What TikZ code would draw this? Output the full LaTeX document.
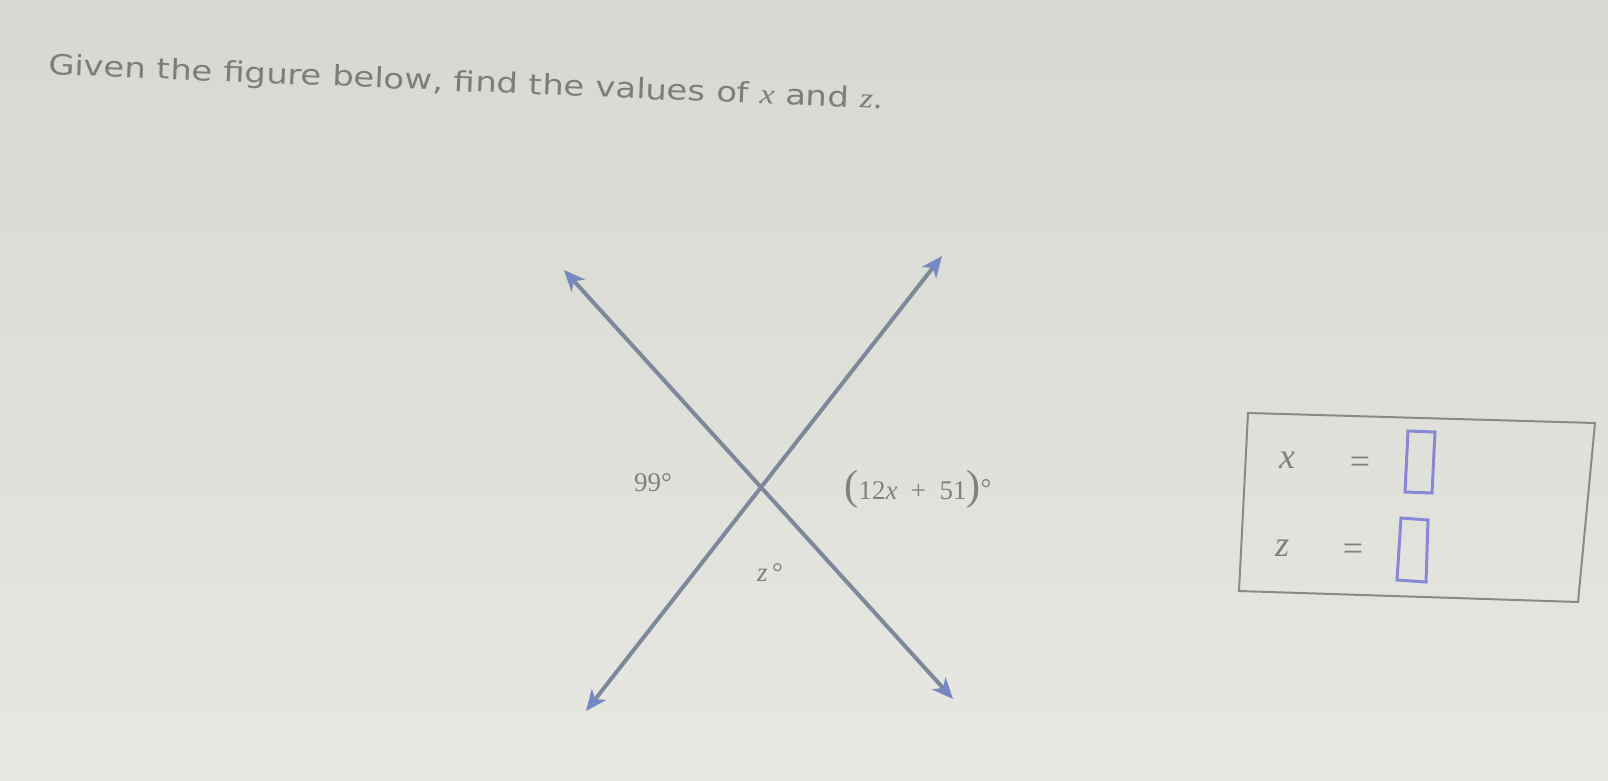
\documentclass[tikz,border=0pt]{standalone}
\usepackage{fontspec}
\usepackage{graphicx}
\newfontfamily\titlefont{DejaVu Sans}
\newfontfamily\serif{Liberation Serif}
\usetikzlibrary{arrows.meta}
\definecolor{bgtop}{RGB}{214,216,209}
\definecolor{bgbot}{RGB}{232,231,227}
\definecolor{linecol}{RGB}{126,136,152}
\definecolor{tipcol}{RGB}{118,136,192}
\definecolor{txtcol}{RGB}{128,128,128}
\definecolor{titlecol}{RGB}{125,125,125}
\definecolor{framecol}{RGB}{138,138,134}
\definecolor{inputcol}{RGB}{136,136,214}
\newcommand{\bigparen}[1]{{\fontsize{42}{42}\selectfont #1}}
\begin{document}
\begin{tikzpicture}[x=1pt,y=-1pt,
  tip/.tip={Stealth[length=21pt,width=18pt,inset=6pt,color=tipcol]},
  arrowline/.style={draw=linecol,line width=4pt,tip-tip},
  titletext/.style={text=titlecol,font=\titlefont\fontsize{28}{32}\selectfont,inner sep=0pt,anchor=base west},
  anglelabel/.style={text=txtcol,font=\serif\fontsize{27}{30}\selectfont,inner sep=0pt},
  answertext/.style={text=txtcol,font=\serif\fontsize{36}{40}\selectfont,inner sep=0pt},
  frame/.style={draw=framecol,line width=2pt},
  inputbox/.style={draw=inputcol,line width=3pt},
]
% background
\shade[top color=bgtop,bottom color=bgbot] (0,0) rectangle (1608,781);
\useasboundingbox (0,0) rectangle (1608,781);

% title
\node[titletext,rotate=-2.4] (title) at (48,74)
  {\scalebox{1.21}[1]{Given the figure below, find the values of {\serif\itshape x} and {\serif\itshape z}.}};

% the two crossing lines
\coordinate (ul) at (564,270);
\coordinate (lr) at (953,699);
\coordinate (ll) at (586,711);
\coordinate (ur) at (942,256);
\draw[arrowline] (ul) -- (lr);
\draw[arrowline] (ll) -- (ur);

% angle labels
\node[anglelabel] (a99) at (653,483) {99°};
\node[anglelabel] (aexpr) at (918,489) {\bigparen{(}12\textit{x}\enspace+\enspace51\bigparen{)}\raisebox{2pt}{°}};
\node[anglelabel] (az) at (770,573) {\textit{z}\,°};

% answer frame
\draw[frame] (1248,413) -- (1595,423) -- (1578,602) -- (1239,591) -- cycle;
\node[answertext] (xl) at (1287,460) {\textit{x}};
\node[answertext] (xeq) at (1360,465) {=};
\node[answertext] (zl) at (1282,548) {\textit{z}};
\node[answertext] (zeq) at (1353,552) {=};
\draw[inputbox] (1408,431) -- (1435,432) -- (1432,493) -- (1405,492) -- cycle;
\draw[inputbox] (1401,518) -- (1428,520) -- (1426,582) -- (1397,580) -- cycle;
\end{tikzpicture}
\end{document}
